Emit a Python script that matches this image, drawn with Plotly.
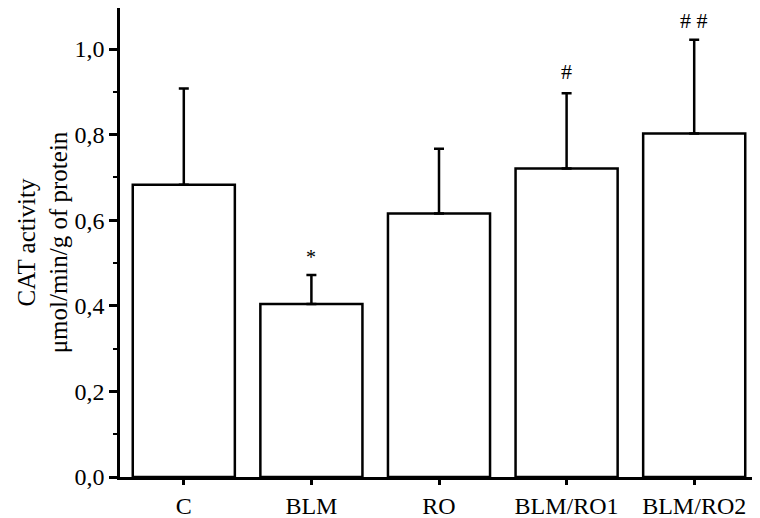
import plotly.graph_objects as go

groups = ["C", "BLM", "RO", "BLM/RO1", "BLM/RO2"]
cat_mean = [0.683, 0.404, 0.616, 0.721, 0.803]
cat_err = [0.225, 0.068, 0.151, 0.176, 0.219]
marks = ["", "*", "", "#", "# #"]
mark_y = [None, 0.515, None, 0.948, 1.066]
mark_size = [0, 20, 0, 22, 22]
ytick_vals = [0.0, 0.2, 0.4, 0.6, 0.8, 1.0]
ytick_text = ["0,0", "0,2", "0,4", "0,6", "0,8", "1,0"]

fig = go.Figure(go.Bar(
    x=groups, y=cat_mean, width=0.8,
    marker=dict(color="white", line=dict(color="black", width=2.5)),
    error_y=dict(type="data", array=cat_err, arrayminus=[0] * len(groups),
                 symmetric=False, color="black", thickness=2.5, width=5),
))

for g, m, my, ms in zip(groups, marks, mark_y, mark_size):
    if m:
        fig.add_annotation(x=g, y=my, text=m, showarrow=False,
                           font=dict(family="Liberation Serif", size=ms, color="black"))

# page body has an 8px margin, so the figure is a bit smaller than the window
fig.update_layout(
    width=752, height=510,
    margin=dict(l=112, r=2, t=0, b=41),
    plot_bgcolor="white", paper_bgcolor="white",
    showlegend=False,
    font=dict(family="Liberation Serif", color="black"),
)
fig.update_xaxes(range=[-0.5, 4.5], showline=True, linecolor="black", linewidth=2.5,
                 ticks="outside", ticklen=5, tickwidth=2.5, tickcolor="black",
                 tickfont=dict(size=24), showgrid=False, automargin=False)
fig.update_yaxes(range=[0, 1.096], showline=True, linecolor="black", linewidth=2.5,
                 tickvals=ytick_vals, ticktext=ytick_text,
                 ticks="outside", ticklen=8, tickwidth=2.5, tickcolor="black",
                 minor=dict(dtick=0.1, tick0=0, ticks="outside", ticklen=4,
                            tickwidth=2, tickcolor="black", showgrid=False),
                 tickfont=dict(size=24), showgrid=False, zeroline=False, automargin=False,
                 title=dict(text="CAT activity<br>μmol/min/g of protein",
                            font=dict(size=25), standoff=0))

fig.write_html("out.html")
